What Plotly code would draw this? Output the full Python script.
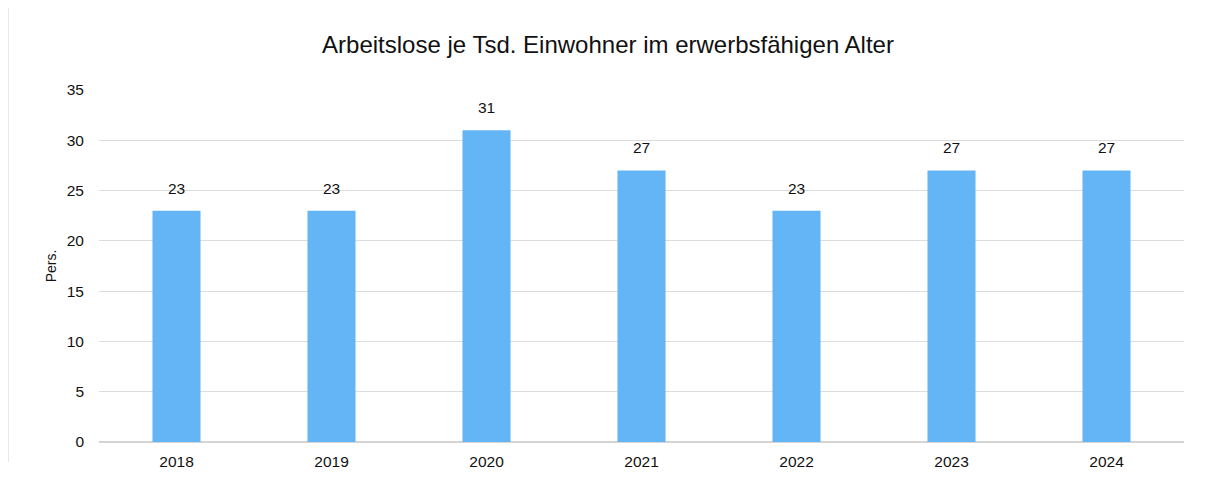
import plotly.graph_objects as go

years = ["2018", "2019", "2020", "2021", "2022", "2023", "2024"]
values = [23, 23, 31, 27, 23, 27, 27]
y_ticks = [0, 5, 10, 15, 20, 25, 30, 35]

W, H = 1210, 482
OFF = 8  # page body margin offset
L, R, T, B = 99 - OFF, 26 + OFF, 90 - OFF, 40 + OFF
pw, ph = W - L - R, H - T - B
FONT = "Liberation Sans, Arial, sans-serif"
TXT = "#111111"

fig = go.Figure()
fig.add_trace(go.Bar(
    x=years, y=values,
    marker=dict(color="#64b5f6", line=dict(width=0)),
    width=0.31,
))

# value labels: category index positions on the category axis
for i, v in enumerate(values):
    fig.add_annotation(x=i, y=v, text=str(v), showarrow=False,
                       xref="x", yref="y", yanchor="bottom", yshift=12,
                       font=dict(size=15.5, color=TXT, family=FONT))

fig.update_layout(
    width=W, height=H,
    margin=dict(l=L, r=R, t=T, b=B),
    paper_bgcolor="white", plot_bgcolor="white",
    font=dict(family=FONT, size=15.5, color=TXT),
    title=dict(text="Arbeitslose je Tsd. Einwohner im erwerbsfähigen Alter",
               x=(608 - OFF) / W, xanchor="center", y=1 - (45 - OFF) / H, yanchor="middle",
               font=dict(size=24, color=TXT)),
    showlegend=False,
)
fig.update_xaxes(type="category", range=[-0.5, len(years) - 0.5], showgrid=False,
                 showline=False, ticks="", tickfont=dict(size=15.5), ticklabelstandoff=8)
fig.update_yaxes(range=[0, 35], tickvals=y_ticks, showgrid=True, gridcolor="#dcdcdc",
                 gridwidth=1, zeroline=True, zerolinecolor="#d4d4d4", zerolinewidth=1.5,
                 ticks="", tickfont=dict(size=15.5), ticklabelstandoff=14,
                 title=dict(text="Pers.", font=dict(size=14), standoff=6))

# faint left border
fig.add_shape(type="line", xref="paper", yref="paper",
              x0=(8 - OFF - L) / pw, x1=(8 - OFF - L) / pw,
              y0=(H - B - (8 - OFF)) / ph, y1=(H - B - (462 - OFF)) / ph,
              line=dict(color="#e0e0e0", width=1.5))

fig.write_html("out.html")
